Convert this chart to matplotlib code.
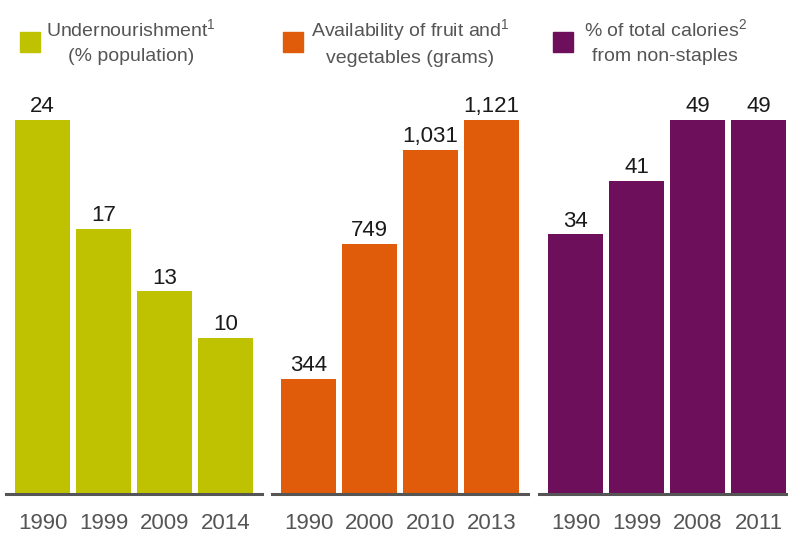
import numpy as np
import matplotlib
matplotlib.use('Agg')
import matplotlib.pyplot as plt
from matplotlib.patches import Rectangle

### chart data
years_under = ['1990', '1999', '2009', '2014']
undernourishment = [24, 17, 13, 10]

years_fruit = ['1990', '2000', '2010', '2013']
fruit_veg = [344, 749, 1031, 1121]

years_cal = ['1990', '1999', '2008', '2011']
non_staples = [34, 41, 49, 49]

legend_labels = ['Undernourishment$^1$\n(% population)',
                 'Availability of fruit and$^1$\nvegetables (grams)',
                 '% of total calories$^2$\nfrom non-staples']

colors = ['#BFC200', '#E05C0A', '#6E0F5C']
text_c = '#555555'

plt.rcParams['font.family'] = ['Liberation Sans', 'DejaVu Sans']
plt.rcParams['mathtext.fontset'] = 'custom'
plt.rcParams['mathtext.rm'] = 'Liberation Sans'
plt.rcParams['mathtext.it'] = 'Liberation Sans:italic'

W, H = 788, 537
fig = plt.figure(figsize=(W/100, H/100), dpi=100)

## pixel layout of each panel: axis left, legend square left, legend text center
panel_left = [6, 272, 539]
square_left = [20, 283, 553]
text_center = [131, 410, 665]
ax_w = 256
top_px, base_px = 120, 494
pitch = 61.0

panels = [(years_under, undernourishment),
          (years_fruit, fruit_veg),
          (years_cal, non_staples)]

for i, (yrs, vals) in enumerate(panels):
    ax = fig.add_axes([panel_left[i]/W, (H - base_px)/H,
                       ax_w/W, (base_px - top_px)/H])
    x = np.arange(len(vals))
    ax.bar(x, vals, width=55/pitch, color=colors[i])
    lo = -36.5/pitch
    ax.set_xlim(lo, lo + ax_w/pitch)
    ax.set_ylim(0, max(vals))
    for xi, v in zip(x, vals):
        ax.annotate('{:,}'.format(v), (xi, v), xytext=(0, 2),
                    textcoords='offset points', ha='center', va='bottom',
                    fontsize=16, color='#1a1a1a', annotation_clip=False)
    ax.set_xticks(x)
    ax.set_xticklabels(yrs, fontsize=16, color=text_c)
    ax.tick_params(axis='x', length=0, pad=14)
    ax.set_yticks([])
    for s in ['top', 'left', 'right']:
        ax.spines[s].set_visible(False)
    ax.spines['bottom'].set_color('#555555')
    ax.spines['bottom'].set_linewidth(2.2)
    ax.patch.set_alpha(0)

    # legend square and label
    fig.patches.append(Rectangle((square_left[i]/W, 1 - 52/H), 20/W, 20/H,
                                 transform=fig.transFigure, color=colors[i]))
    fig.text(text_center[i]/W, 1 - 42/H, legend_labels[i], ha='center',
             va='center', multialignment='center', fontsize=14,
             color=text_c, linespacing=1.6)

fig.savefig('out.png', dpi=100)
